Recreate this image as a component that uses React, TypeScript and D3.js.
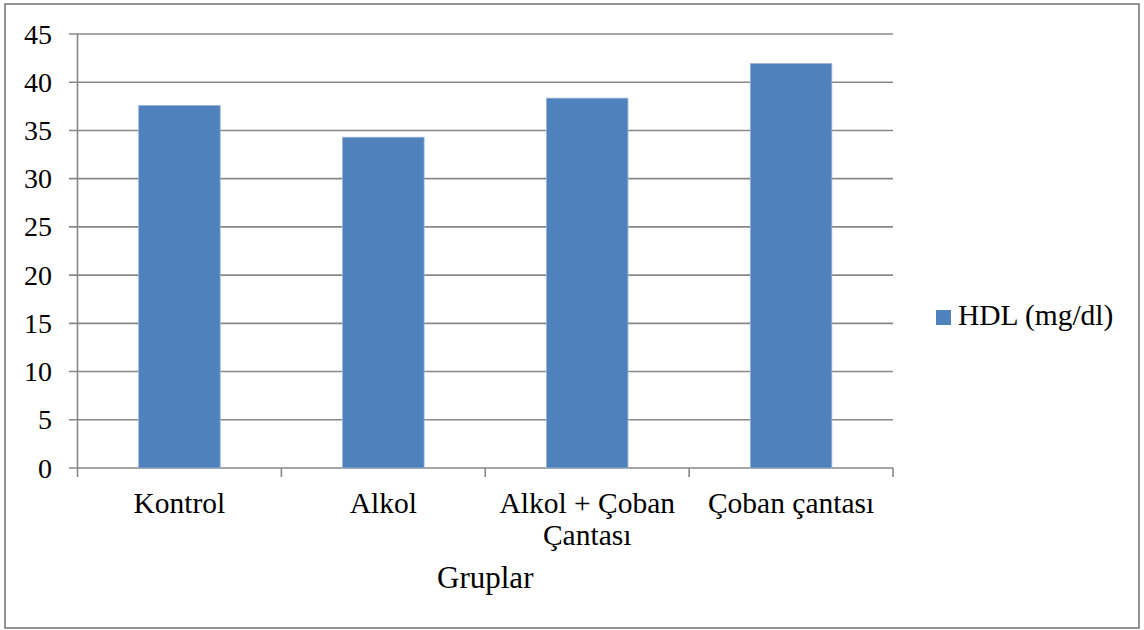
import React from "react";
import * as d3 from "d3";

const categories: string[][] = [["Kontrol"], ["Alkol"], ["Alkol + Çoban", "Çantası"], ["Çoban çantası"]];
const values: number[] = [37.6, 34.3, 38.35, 41.95];
const yTicks: number[] = [0, 5, 10, 15, 20, 25, 30, 35, 40, 45];
const seriesName = "HDL (mg/dl)";
const axisTitle = "Gruplar";

const W = 1144;
const H = 630;
const left = 77.5;
const right = 893;
const top = 34;
const bottom = 468;
const font = "'Liberation Serif', 'Times New Roman', serif";
const grid = "#878787";
const barColor = "#4F81BD";

export default function App() {
  const x = d3
    .scaleBand<number>()
    .domain(categories.map((_, i) => i))
    .range([left, right])
    .paddingInner(0.6)
    .paddingOuter(0.3);
  const y = d3.scaleLinear().domain([0, 45]).range([bottom, top]);
  const step = (right - left) / categories.length;
  const tickXs = d3.range(categories.length + 1).map((i) => left + i * step);

  return (
    <svg
      width={W}
      height={H}
      style={{ position: "absolute", left: 0, top: 0, background: "#fff" }}
      fontFamily={font}
    >
      <rect x={0} y={0} width={W} height={H} fill="#fff" />
      <rect x={5} y={4} width={1134} height={624} fill="none" stroke="#888" strokeWidth={1.8} />
      {yTicks.map((t) => (
        <g key={t}>
          <line x1={69} x2={right} y1={y(t)} y2={y(t)} stroke={grid} strokeWidth={1.6} />
          <text x={52} y={y(t) + 9.5} textAnchor="end" fontSize={28} fill="#000">
            {t}
          </text>
        </g>
      ))}
      <line x1={left} x2={left} y1={top} y2={bottom} stroke={grid} strokeWidth={1.6} />
      {tickXs.map((tx, i) => (
        <line key={i} x1={tx} x2={tx} y1={bottom} y2={bottom + 9} stroke={grid} strokeWidth={1.6} />
      ))}
      {values.map((v, i) => (
        <rect
          key={i}
          x={x(i)}
          y={y(v)}
          width={x.bandwidth()}
          height={bottom - y(v)}
          fill={barColor}
          stroke="#9DB6D8"
          strokeWidth={0.8}
        />
      ))}
      {categories.map((lines, i) => (
        <text key={i} textAnchor="middle" fontSize={29.5} fill="#000">
          {lines.map((l, j) => (
            <tspan key={j} x={(x(i) as number) + x.bandwidth() / 2} y={513 + j * 32}>
              {l}
            </tspan>
          ))}
        </text>
      ))}
      <text x={(left + right) / 2} y={588} textAnchor="middle" fontSize={31} fill="#000">
        {axisTitle}
      </text>
      <rect x={936} y={310} width={15} height={15} fill={barColor} />
      <text x={958} y={325} fontSize={29.5} fill="#000">
        {seriesName}
      </text>
    </svg>
  );
}
